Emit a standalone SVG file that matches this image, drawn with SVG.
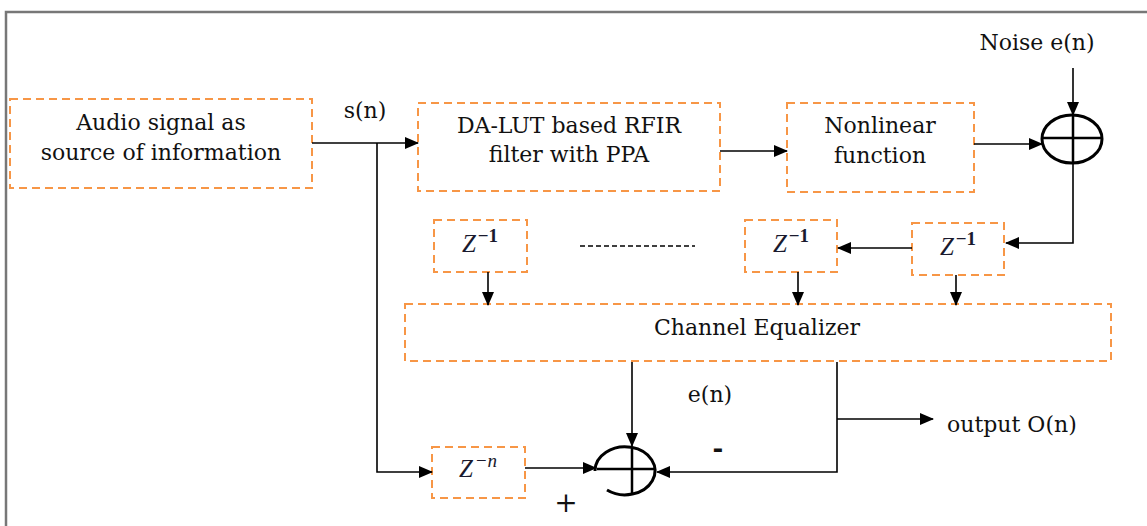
<svg xmlns="http://www.w3.org/2000/svg" width="1147" height="526" viewBox="0 0 1147 526">
<style>
.box{fill:none;stroke:#F79646;stroke-width:2;stroke-dasharray:8,5}
.t{font-family:"DejaVu Serif","Liberation Serif",serif;font-size:22px;fill:#111;text-anchor:middle}
.z{font-family:"Liberation Serif",serif;font-size:25px;fill:#1a1a2e;text-anchor:middle}
.sup{font-size:19px;font-weight:bold}
.c{fill:none;stroke:#000;stroke-width:1.6}
.sum{fill:none;stroke:#000;stroke-width:3}
</style>
<defs>
<marker id="ah" markerUnits="userSpaceOnUse" markerWidth="14" markerHeight="12" refX="13" refY="6" orient="auto">
<path d="M0,0 L14,6 L0,12 Z" fill="#000"/>
</marker>
</defs>
<rect width="1147" height="526" fill="#fff"/>
<path d="M6,526 V12 H1147" fill="none" stroke="#777" stroke-width="2.5"/>

<g id="audio"><rect class="box" x="10" y="99" width="302" height="89"/>
<text class="t" x="161" y="130">Audio signal as</text><text class="t" x="161" y="160">source of information</text></g>
<g id="rfir"><rect class="box" x="418" y="103" width="302" height="88"/>
<text class="t" x="569" y="133">DA-LUT based RFIR</text><text class="t" x="569" y="162">filter with PPA</text></g>
<g id="nonlinear"><rect class="box" x="787" y="103" width="187" height="89"/>
<text class="t" x="880" y="133">Nonlinear</text><text class="t" x="880" y="163">function</text></g>
<g id="sum1"><ellipse class="sum" cx="1072" cy="139" rx="30" ry="24"/>
<path class="sum" d="M1073,115 V163 M1042,138 H1102" style="stroke-width:2.5"/></g>
<g id="noise"><text class="t" x="1037" y="50">Noise e(n)</text></g>
<g id="zr"><rect class="box" x="912" y="223" width="92" height="52"/>
<text class="z" x="958" y="255"><tspan font-style="italic">Z</tspan><tspan class="sup" dx="2" dy="-10">−1</tspan></text></g>
<g id="zm"><rect class="box" x="745" y="220" width="92" height="52"/>
<text class="z" x="791" y="252"><tspan font-style="italic">Z</tspan><tspan class="sup" dx="2" dy="-10">−1</tspan></text></g>
<g id="zl"><rect class="box" x="434" y="220" width="93" height="52"/>
<text class="z" x="480" y="252"><tspan font-style="italic">Z</tspan><tspan class="sup" dx="2" dy="-10">−1</tspan></text></g>
<g id="equalizer"><rect class="box" x="405" y="304" width="706" height="57"/>
<text class="t" x="757" y="335">Channel Equalizer</text></g>
<g id="zn"><rect class="box" x="432" y="447" width="93" height="51"/>
<text class="z" x="478" y="477"><tspan font-style="italic">Z</tspan><tspan style="font-size:19px;font-style:italic" dx="2" dy="-10">−n</tspan></text></g>
<g id="sum2"><path class="sum" d="M607,490 A30,24 0 1 0 595,471"/>
<path class="sum" d="M632,447 V495 M597,469 H655" style="stroke-width:2.5"/></g>
<g id="output"><text class="t" x="947" y="432" style="text-anchor:start">output O(n)</text></g>

<g id="connectors">
<path class="c" d="M312,143 H418" marker-end="url(#ah)"/>
<path class="c" d="M377,143 V472 H432" marker-end="url(#ah)"/>
<path class="c" d="M720,151 H787" marker-end="url(#ah)"/>
<path class="c" d="M974,144 H1042" marker-end="url(#ah)"/>
<path class="c" d="M1073,68 V115" marker-end="url(#ah)"/>
<path class="c" d="M1073,163 V243 H1006" marker-end="url(#ah)"/>
<path class="c" d="M912,248 H838" marker-end="url(#ah)"/>
<path class="c" d="M488,272 V305" marker-end="url(#ah)"/>
<path class="c" d="M798,272 V305" marker-end="url(#ah)"/>
<path class="c" d="M956,275 V305" marker-end="url(#ah)"/>
<path class="c" d="M632,362 V446" marker-end="url(#ah)"/>
<path class="c" d="M837,362 V472 H657" marker-end="url(#ah)"/>
<path class="c" d="M837,419 H933" marker-end="url(#ah)"/>
<path class="c" d="M525,468 H596" marker-end="url(#ah)"/>
<path d="M580,246 H695" stroke="#000" stroke-width="1.5" stroke-dasharray="5,3" fill="none"/>
</g>
<g id="labels">
<text class="t" x="365" y="118">s(n)</text>
<text class="t" x="710" y="402">e(n)</text>
<text class="t" x="718" y="457" style="font-size:26px;font-weight:bold">-</text>
<text class="t" x="566" y="512" style="font-size:28px">+</text>
</g>
</svg>
